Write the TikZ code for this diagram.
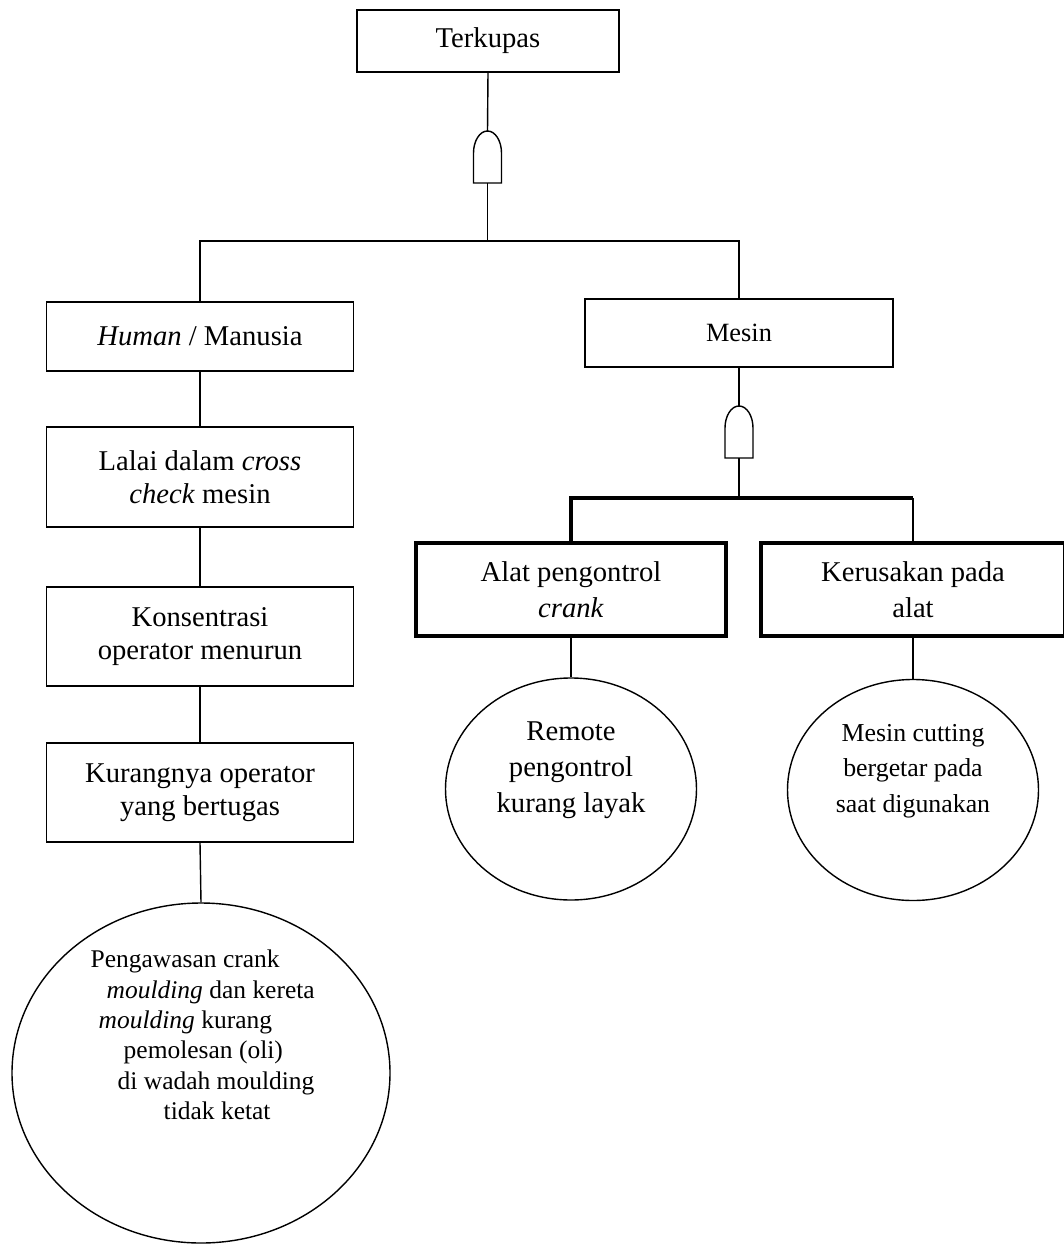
\documentclass[tikz,border=0pt]{standalone}
\usepackage{fontspec}
\setmainfont{Liberation Serif}
\usetikzlibrary{shapes.geometric}

\tikzset{
  box/.style={draw, line width=0.8pt, align=center, inner sep=0pt,
    font=\fontsize{16.3}{18.7}\selectfont},
  heavybox/.style={box, line width=2pt, font=\fontsize{16.3}{20.7}\selectfont},
  event/.style={draw, ellipse, line width=0.8pt, inner sep=0pt},
  eventtext/.style={align=center, inner sep=0pt, font=\fontsize{16.3}{20.4}\selectfont},
  heavy/.style={line width=2pt},
  andgate/.pic={
    \draw (-0.28,0) -- (-0.28,0.6) arc[start angle=180, end angle=0, x radius=0.28, y radius=0.44] -- (0.28,0) -- cycle;
    \coordinate (-in)  at (0,0);
    \coordinate (-out) at (0,1.04);
  }
}

\begin{document}
\begin{tikzpicture}[line width=0.8pt]
      \useasboundingbox (0,0) rectangle (21.26,-24.88);

      \node[box, minimum width=5.24cm, minimum height=1.24cm] (TerkupasN) at (9.76,-0.82) {Terkupas};
      \pic (gA) at (9.75,-3.66) {andgate};
      \coordinate (barA) at (9.75,-4.82);

      \node[box, minimum width=6.14cm, minimum height=1.38cm] (HumanN)  at (4.0,-6.73)  {\textit{Human} / Manusia};
      \node[box, minimum width=6.14cm, minimum height=2.0cm]  (LalaiN)  at (4.0,-9.54)  {Lalai dalam \textit{cross}\\\textit{check} mesin};
      \node[box, minimum width=6.14cm, minimum height=1.98cm] (KonsN)   at (4.0,-12.73) {Konsentrasi\\operator menurun};
      \node[box, minimum width=6.14cm, minimum height=1.98cm] (KurangN) at (4.0,-15.85) {Kurangnya operator\\yang bertugas};
      \node[event, minimum width=7.56cm, minimum height=6.8cm] (PengawasanN) at (4.02,-21.46) {};
      \node[eventtext, align=left, anchor=west, font=\fontsize{14.5}{17.3}\selectfont] (PengawasanT) at (1.8,-20.7)
        {Pengawasan crank\\\hspace*{0.32cm}\textit{moulding} dan kereta\\\hspace*{0.16cm}\textit{moulding} kurang\\\hspace*{0.66cm}pemolesan (oli)\\\hspace*{0.54cm}di wadah moulding\\\hspace*{1.46cm}tidak ketat};

      \node[box, minimum width=6.16cm, minimum height=1.36cm, font=\fontsize{15}{18}\selectfont] (MesinN) at (14.78,-6.66) {Mesin};
      \pic (gB) at (14.78,-9.16) {andgate};
      \coordinate (barB) at (14.78,-9.96);

      \node[heavybox, minimum width=6.2cm,  minimum height=1.86cm] (AlatN)      at (11.42,-11.79) {Alat pengontrol\\\textit{crank}};
      \node[heavybox, minimum width=6.08cm, minimum height=1.86cm] (KerusakanN) at (18.26,-11.79) {Kerusakan pada\\alat};
      \coordinate (barBR) at (barB -| KerusakanN.north);

      \node[event, minimum width=5.02cm, minimum height=4.44cm] (RemoteN) at (11.42,-15.78) {};
      \node[eventtext] (RemoteT) at (11.42,-15.4) {Remote\\pengontrol\\kurang layak};
      \node[event, minimum width=5.02cm, minimum height=4.42cm] (CuttingN) at (18.26,-15.8) {};
      \node[eventtext, font=\fontsize{14.7}{20.1}\selectfont] (CuttingT) at (18.26,-15.42) {Mesin cutting\\bergetar pada\\saat digunakan};

      \draw (TerkupasN.south) -- (gA-out);
      \draw (gA-in) -- (barA);
      \draw (HumanN.north) |- (barA) -| (MesinN.north);

      \draw (HumanN.south)  -- (LalaiN.north);
      \draw (LalaiN.south)  -- (KonsN.north);
      \draw (KonsN.south)   -- (KurangN.north);
      \draw (KurangN.south) -- (PengawasanN.north);

      \draw (MesinN.south) -- (gB-out);
      \draw (gB-in) -- (barB);
      \draw [heavy] (AlatN.north) |- (barB) -- (barBR);
      \draw (barBR) -- (KerusakanN.north);

      \draw (AlatN.south)      -- (RemoteN.north);
      \draw (KerusakanN.south) -- (CuttingN.north);
    \end{tikzpicture}
\end{document}
